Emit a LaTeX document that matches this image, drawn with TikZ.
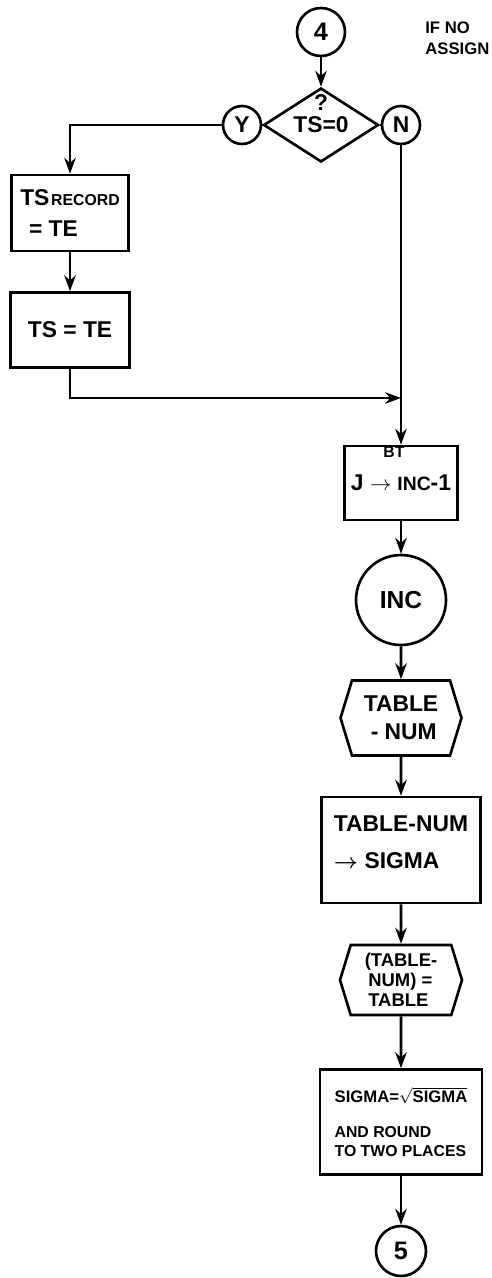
\documentclass[tikz,border=0pt]{standalone}
\usepackage{amsmath}
\usepackage{fontspec}
\setmainfont{Liberation Sans}
\usepackage{tikz}
\usetikzlibrary{shapes.geometric, shapes.symbols, arrows.meta, positioning}
\newcommand\bigtext{\fontsize{13}{16}\selectfont\bfseries}
\newcommand\midtext{\fontsize{11}{13}\selectfont\bfseries}
\newcommand\smalltext{\fontsize{9}{12}\selectfont\bfseries}
\tikzstyle{arrow}    = [line width=1.5pt,->,>={Stealth[length=9pt,width=6.5pt]}]
\tikzstyle{line}     = [line width=1.5pt]
\tikzstyle{block}    = [rectangle, draw, line width=1.5pt, inner sep=2pt, font=\bigtext]
\tikzstyle{conn}     = [circle, draw, line width=1.5pt, inner sep=0pt, font=\bigtext]
\tikzstyle{decision} = [diamond, draw, line width=1.5pt, inner sep=0pt, aspect=1.55, font=\bigtext]
\tikzstyle{prep}     = [signal, signal to=east and west, signal pointer angle=146, draw, line width=1.5pt, inner sep=2pt, font=\bigtext]
\tikzset{every node/.style={align=center}}
\begin{document}
\begin{tikzpicture}[x=0.02cm, y=-0.02cm]
    \useasboundingbox (0,0) rectangle (491,1278);
    \node (c4)    at (321,32)   [conn, minimum size=0.96cm, font=\Large\bfseries] {4};
    \node (dec)   at (321,125)  [decision, minimum width=2.3cm, minimum height=1.48cm,
                                 label={[anchor=north, yshift=-4pt, inner sep=0pt, font=\bigtext]north:?}] {\raisebox{-3pt}{TS=0}};
    \node (yes)   at (242,125)  [conn, minimum size=0.76cm] {Y};
    \node (no)    at (401,125)  [conn, minimum size=0.76cm] {N};
    \node (rec)   at (70,213)   [block, minimum width=2.34cm, minimum height=1.52cm, align=left]
                                {TS\kern1pt{\smalltext RECORD}\\[2pt]\hspace{5pt}= TE};
    \node (tste)  at (70,330)   [block, minimum width=2.38cm, minimum height=1.5cm] {TS = TE};
    \coordinate (join) at (401,398);
    \node (bt)    at (401,483)  [block, minimum width=2.26cm, minimum height=1.48cm,
                                 label={[anchor=north, inner sep=1pt, xshift=-4pt, font=\smalltext]north:BT}] {J $\rightarrow$ {\midtext INC}-1};
    \node (inc)   at (401,600)  [conn, minimum size=1.8cm, font=\fontsize{14}{16}\selectfont\bfseries] {INC};
    \node (tab)   at (401,718)  [prep, minimum width=2.42cm, minimum height=1.5cm, align=left] {TABLE\\\hspace{4pt}- NUM};
    \node (sig)   at (401,850)  [block, minimum width=3.18cm, minimum height=2.12cm, align=left]
                                {TABLE-NUM\\[5pt]$\boldsymbol{\rightarrow}$ SIGMA\\[-7pt]\mbox{}};
    \node (tab2)  at (401,980)  [prep, minimum width=2.44cm, minimum height=1.4cm, align=left,
                                 font=\fontsize{10.5}{11.5}\selectfont\bfseries] {(TABLE-\\\hspace{2pt}NUM) =\\\hspace{2pt}TABLE};
    \node (sqrt)  at (401,1122) [block, minimum width=3.24cm, minimum height=2.1cm, align=left]
                                {{\fontsize{9.5}{12}\selectfont\bfseries SIGMA=$\sqrt{\mbox{SIGMA}}$}\\[4pt]
                                 {\smalltext AND ROUND}\\[-5pt]{\smalltext TO TWO PLACES}};
    \node (c5)    at (401,1251) [conn, minimum size=1.0cm, font=\Large\bfseries] {5};
    \node (note)  at (425,38)   [anchor=west, align=left, inner sep=0pt, font=\fontsize{9.5}{12}\selectfont\bfseries] {IF NO\\ASSIGN};

    \draw [arrow] (c4)   -- (dec);
    \draw [line]  (dec.west) -- (yes);
    \draw [line]  (dec.east) -- (no);
    \draw [arrow] (yes.west) -| (rec.north);
    \draw [arrow] (rec)  -- (tste);
    \draw [arrow] (tste.south) |- (join);
    \draw [arrow] (no)   -- (bt);
    \draw [arrow] (bt)   -- (inc);
    \draw [arrow] (inc)  -- (tab);
    \draw [arrow] (tab)  -- (sig);
    \draw [arrow] (sig)  -- (tab2);
    \draw [arrow] (tab2) -- (sqrt);
    \draw [arrow] (sqrt) -- (c5);
\end{tikzpicture}
\end{document}
